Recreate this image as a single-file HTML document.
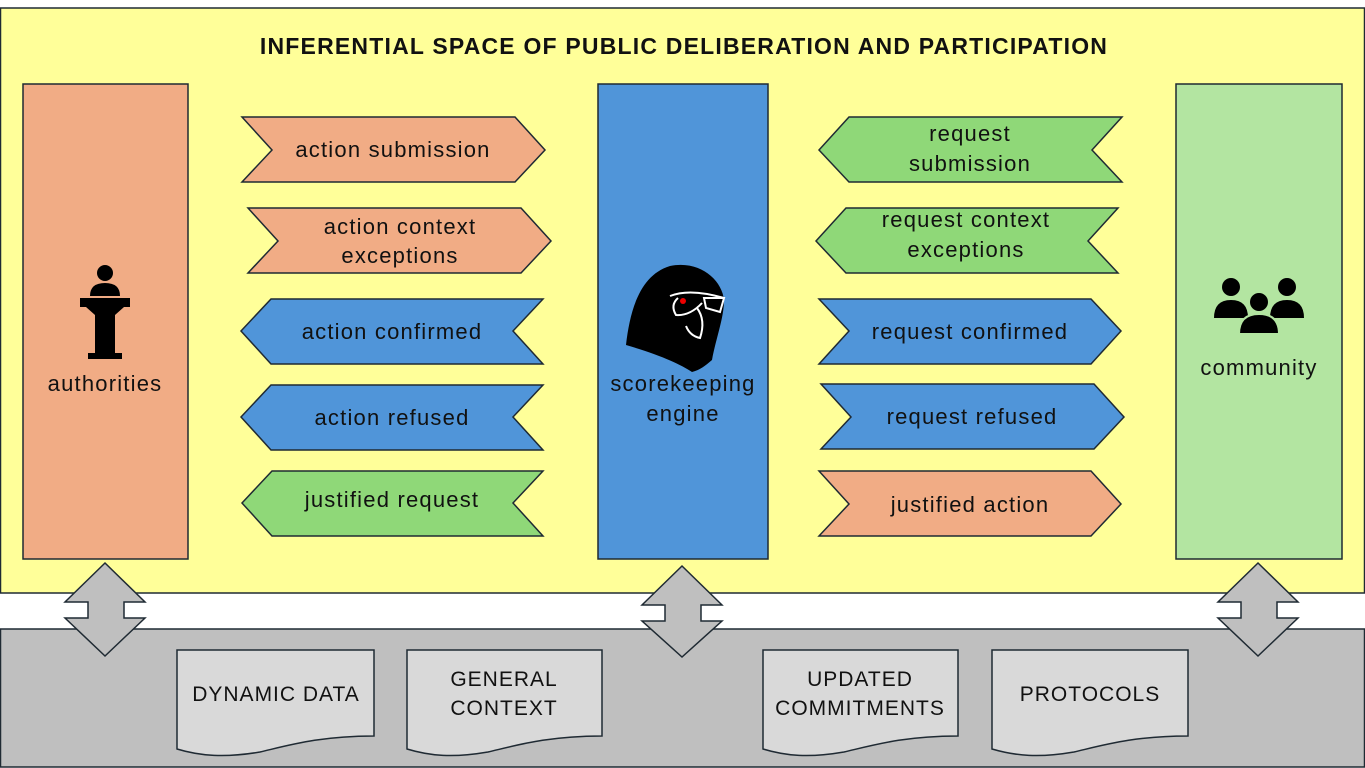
<!DOCTYPE html>
<html><head><meta charset="utf-8"><style>
html,body{margin:0;padding:0;background:#fff}
svg{display:block}
text{font-family:"Liberation Sans",sans-serif;fill:#111}
</style></head><body>
<svg width="1365" height="768" viewBox="0 0 1365 768" xmlns="http://www.w3.org/2000/svg">
<rect x="0.5" y="8" width="1364" height="585" fill="#FFFF99" stroke="#1f2a33" stroke-width="1.5"/>
<text x="684" y="54" text-anchor="middle" font-size="23" font-weight="bold" letter-spacing="1.2">INFERENTIAL SPACE OF PUBLIC DELIBERATION AND PARTICIPATION</text>
<rect x="0.5" y="629" width="1364" height="138" fill="#BFBFBF" stroke="#1f2a33" stroke-width="1.5"/>
<g stroke="#1f2a33" stroke-width="1.5">
<rect x="23" y="84" width="165" height="475" fill="#F1AC85"/>
<rect x="598" y="84" width="170" height="475" fill="#5095D9"/>
<rect x="1176" y="84" width="166" height="475" fill="#B3E5A1"/>
<polygon points="242,117 515,117 545,150 515,182 242,182 272,150" fill="#F1AC85"/>
<polygon points="248,208 521,208 551,241 521,273 248,273 278,241" fill="#F1AC85"/>
<polygon points="819,299 1091,299 1121,331 1091,364 819,364 849,331" fill="#5095D9"/>
<polygon points="821,384 1094,384 1124,417 1094,449 821,449 851,417" fill="#5095D9"/>
<polygon points="819,471 1091,471 1121,504 1091,536 819,536 849,504" fill="#F1AC85"/>
<polygon points="241,331 271,299 543,299 513,331 543,364 271,364" fill="#5095D9"/>
<polygon points="241,417 271,385 543,385 513,417 543,450 271,450" fill="#5095D9"/>
<polygon points="242,503 272,471 543,471 513,503 543,536 272,536" fill="#8FD878"/>
<polygon points="819,150 849,117 1122,117 1092,150 1122,182 849,182" fill="#8FD878"/>
<polygon points="816,241 846,208 1118,208 1088,241 1118,273 846,273" fill="#8FD878"/>
<polygon points="105,563 145,602 124,602 124,618 145,618 105,656 65,618 88,618 88,602 65,602" fill="#BFBFBF"/>
<polygon points="682,566 722,605 701,605 701,621 722,621 682,657 642,621 665,621 665,605 642,605" fill="#BFBFBF"/>
<polygon points="1258,563 1298,602 1277,602 1277,618 1298,618 1258,656 1218,618 1241,618 1241,602 1218,602" fill="#BFBFBF"/>
<path d="M177,650 H374 V736 C320,736 290,745 260,752 C225,758 200,756 177,749 Z" fill="#D9D9D9"/>
<path d="M407,650 H602 V736 C548,736 518,745 488,752 C453,758 430,756 407,749 Z" fill="#D9D9D9"/>
<path d="M763,650 H958 V736 C904,736 874,745 844,752 C809,758 786,756 763,749 Z" fill="#D9D9D9"/>
<path d="M992,650 H1188 V736 C1134,736 1104,745 1074,752 C1039,758 1016,756 992,749 Z" fill="#D9D9D9"/>
</g>
<g font-size="22" text-anchor="middle" letter-spacing="1.2">
<text x="393" y="157">action submission</text>
<text x="400" y="234">action context</text><text x="400" y="263">exceptions</text>
<text x="392" y="339">action confirmed</text>
<text x="392" y="425">action refused</text>
<text x="392" y="507">justified request</text>
<text x="970" y="141">request</text><text x="970" y="171">submission</text>
<text x="966" y="227">request context</text><text x="966" y="257">exceptions</text>
<text x="970" y="339">request confirmed</text>
<text x="972" y="424">request refused</text>
<text x="970" y="512">justified action</text>
<text x="105" y="391">authorities</text>
<text x="683" y="391">scorekeeping</text><text x="683" y="421">engine</text>
<text x="1259" y="375">community</text>
</g>
<g font-size="21" text-anchor="middle" letter-spacing="1">
<text x="276" y="701">DYNAMIC DATA</text>
<text x="504" y="686">GENERAL</text><text x="504" y="715">CONTEXT</text>
<text x="860" y="686">UPDATED</text><text x="860" y="715">COMMITMENTS</text>
<text x="1090" y="701">PROTOCOLS</text>
</g>
<g fill="#000">
<circle cx="105" cy="273" r="8"/>
<path d="M90,296 Q90,283 105,283 Q120,283 120,296 Z"/>
<rect x="80" y="298" width="50" height="9"/>
<polygon points="86,307 124,307 115,315 95,315"/>
<rect x="95" y="315" width="20" height="38"/>
<rect x="88" y="353" width="34" height="6"/>
</g>
<g fill="#000">
<circle cx="1231" cy="287" r="9"/><path d="M1214,318 Q1214,300 1231,300 Q1248,300 1248,318 Z"/>
<circle cx="1287" cy="287" r="9"/><path d="M1270,318 Q1270,300 1287,300 Q1304,300 1304,318 Z"/>
<circle cx="1259" cy="302" r="10" stroke="#B3E5A1" stroke-width="2"/><path d="M1239,334 Q1239,314 1259,314 Q1279,314 1279,334 Z" stroke="#B3E5A1" stroke-width="2"/>
</g>
<path d="M626,345 C630,310 640,275 670,266 C700,260 722,280 724,300 C724,318 716,338 712,360 C705,366 700,370 692,372 C680,364 660,355 626,345 Z" fill="#000"/>
<path d="M670,296 Q690,288 724,298 M678,298 Q670,305 676,315 Q690,316 702,303 M697,308 Q706,320 700,338 Q690,336 686,326" stroke="#fff" stroke-width="2" fill="none"/>
<path d="M704,298 L724,298 L720,312 L706,308 Z" stroke="#fff" stroke-width="2" fill="none"/>
<circle cx="683" cy="301" r="3" fill="#e00"/>
</svg>
</body></html>
